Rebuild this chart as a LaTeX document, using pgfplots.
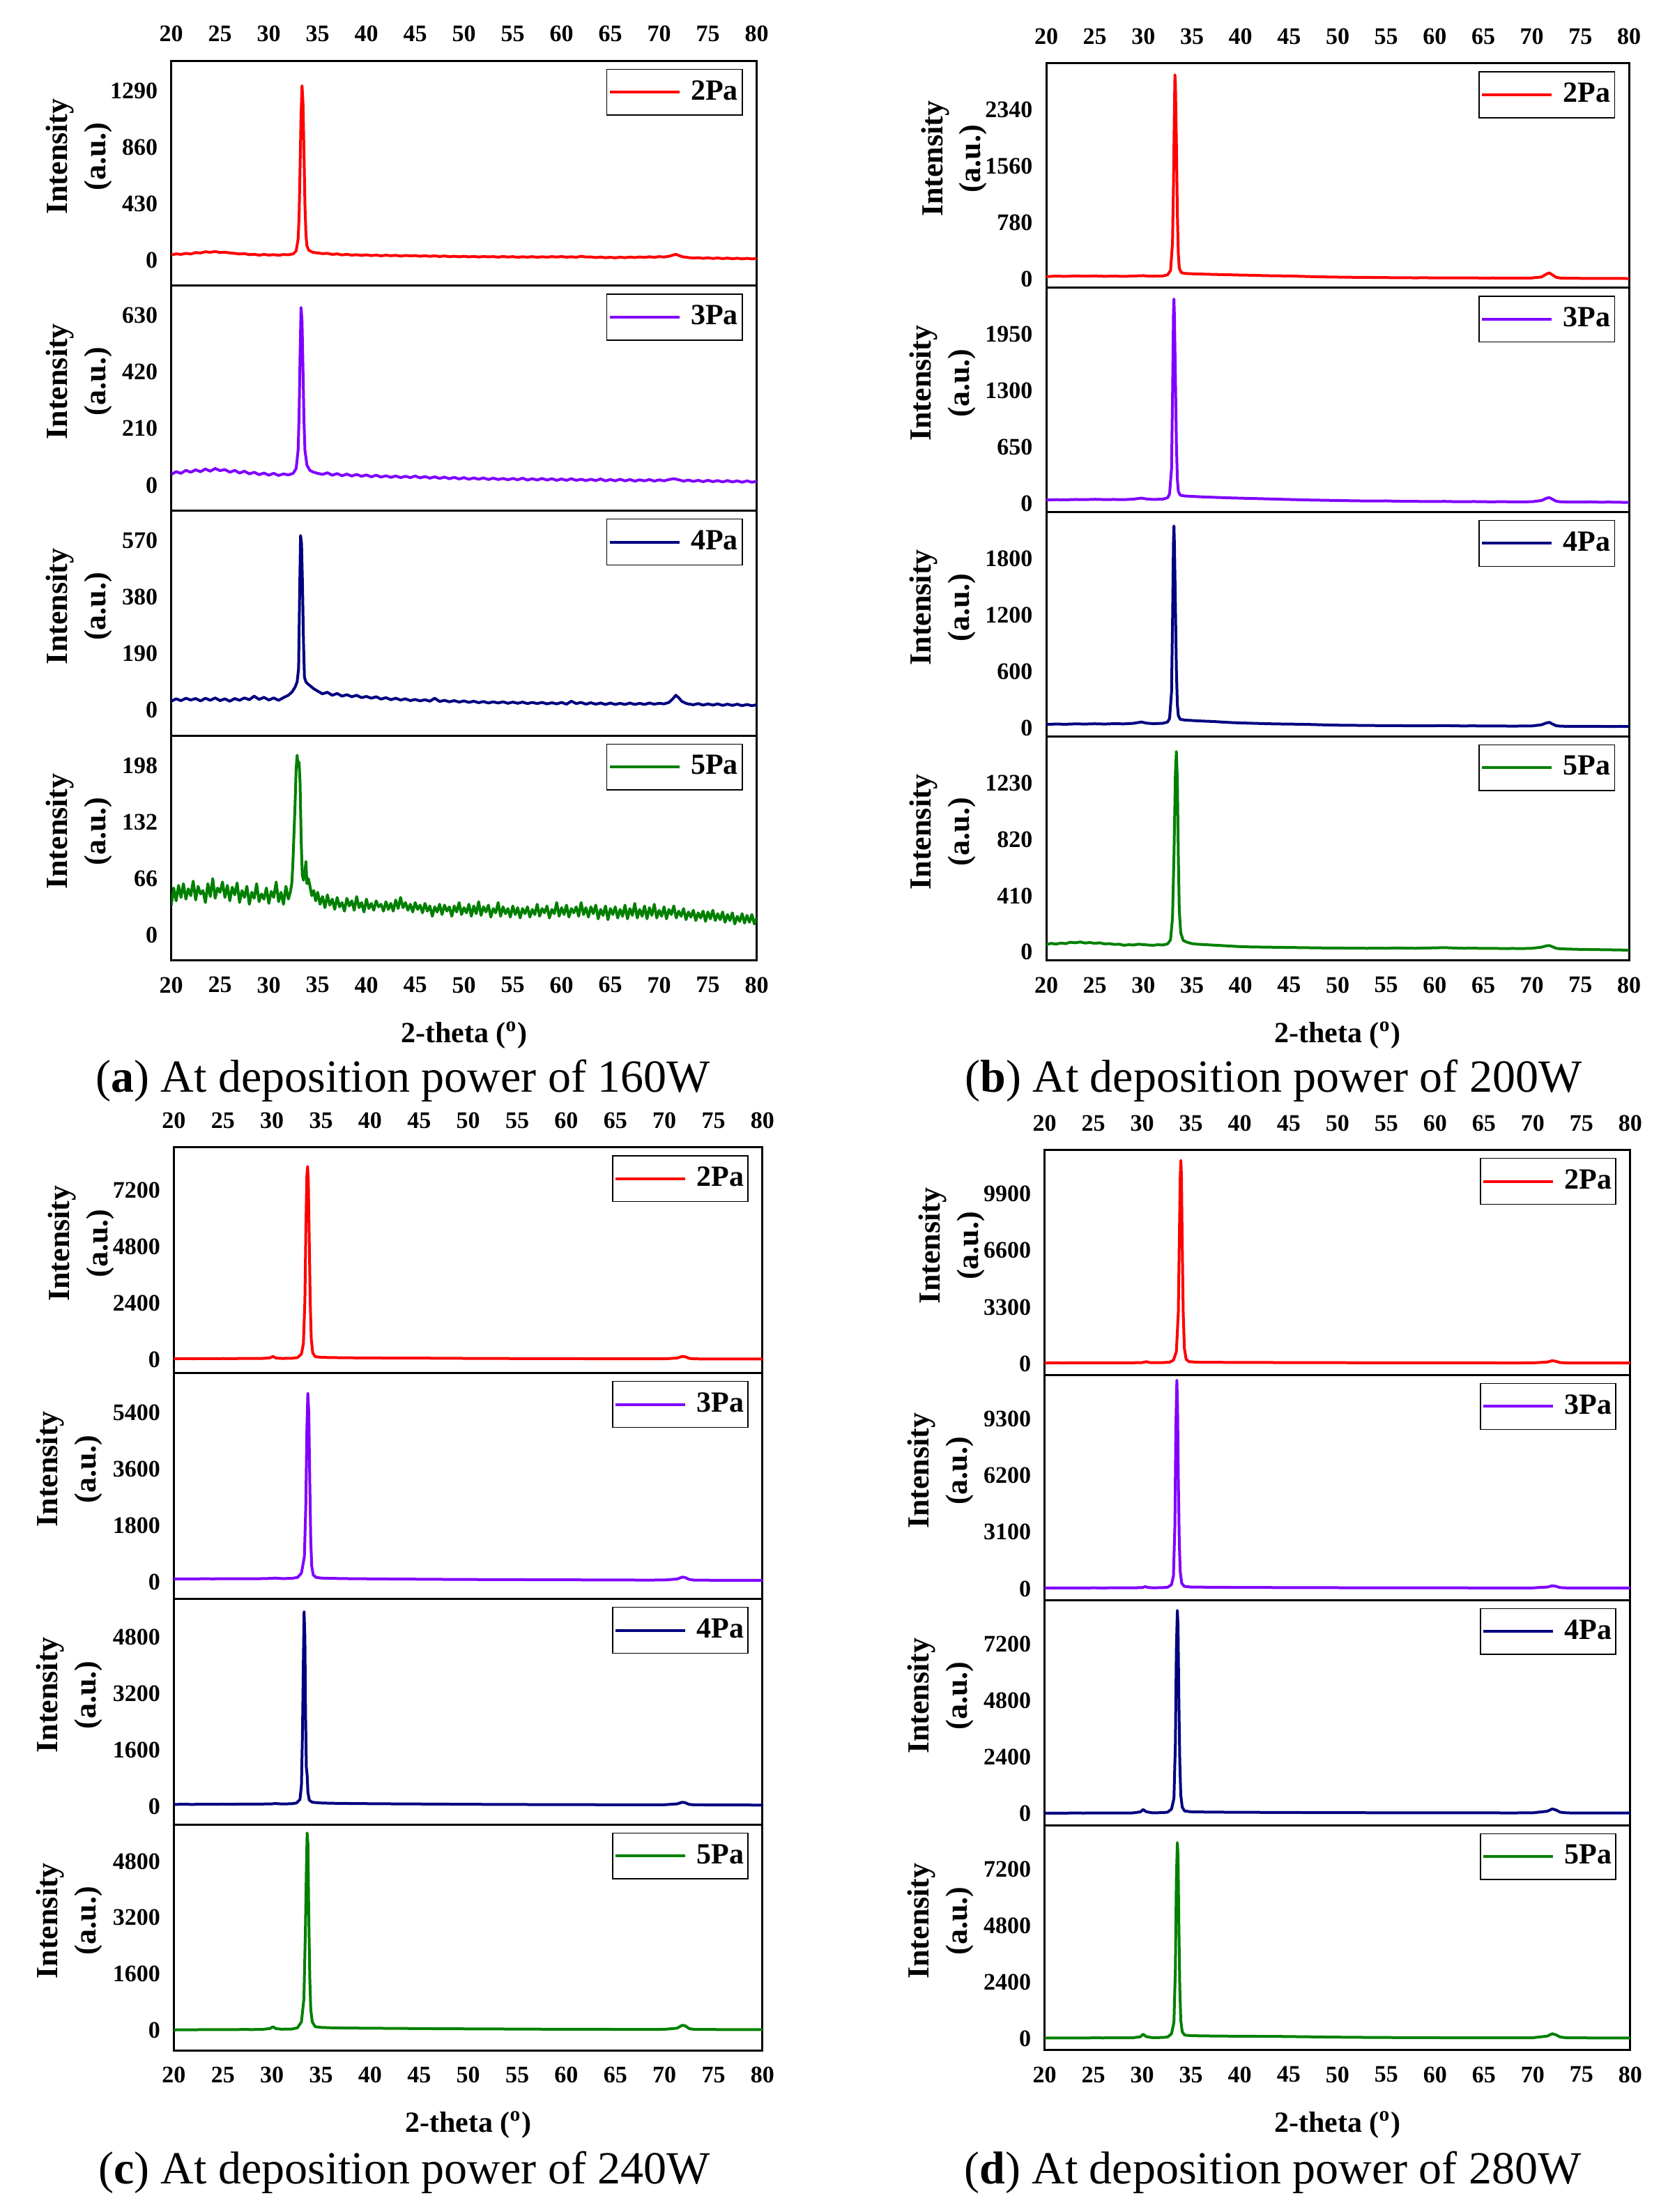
\documentclass[border=0pt]{standalone}
\usepackage{fontspec}
\setmainfont{Liberation Serif}
\usepackage{pgfplots}
\pgfplotsset{compat=1.18}
\definecolor{c2}{RGB}{255,0,0}
\definecolor{c3}{RGB}{128,0,255}
\definecolor{c4}{RGB}{0,0,128}
\definecolor{c5}{RGB}{0,128,0}
\pgfplotsset{
  xrd/.style={
    scale only axis, anchor=north west,
    xmin=20, xmax=80, xtick={20,25,30,35,40,45,50,55,60,65,70,75,80},
    major tick length=0pt, minor tick length=0pt,
    axis line style={line width=0.75pt},
    tick label style={font=\fontsize{8.5}{10}\selectfont\bfseries},
    /pgf/number format/assume math mode=true,
    /pgf/number format/1000 sep={},
    scaled y ticks=false,
    yticklabel style={inner sep=0pt, xshift=-4.7pt},
    xticklabels={},
    every axis plot/.append style={line width=1pt, line join=round, mark=none},
    legend style={at={(0.976,0.964)}, anchor=north east, draw=black, line width=0.35pt,
      font=\fontsize{10.5}{12}\selectfont\bfseries, inner xsep=0.5pt, inner ysep=3pt,
      nodes={inner sep=1pt},
      /tikz/every odd column/.append style={column sep=2.6pt}},
    legend image code/.code={\draw[##1,line width=1pt] (0pt,0pt) -- (25pt,0pt);},
    ylabel={Intensity\\(a.u.)},
    every axis y label/.style={at={(axis description cs:-0.178,0.574)}, rotate=90, anchor=center,
      align=center, font=\fontsize{11}{13.75}\selectfont\bfseries},
    every axis x label/.style={at={(axis description cs:0.5,0)}, anchor=center, yshift=-26.7pt,
      font=\fontsize{10.5}{12}\selectfont\bfseries},
  },
  yl1/.style={ylabel style={at={(axis description cs:-0.158,0.574)}}},
  xtop/.style={xticklabel pos=upper, xticklabels={20,25,30,35,40,45,50,55,60,65,70,75,80},
    xticklabel style={anchor=south, inner sep=0pt, yshift=6.5pt}},
  xbot/.style={xticklabel pos=lower, xticklabels={20,25,30,35,40,45,50,55,60,65,70,75,80},
    xticklabel style={anchor=north, inner sep=0pt, yshift=-5.7pt},
    xlabel={2-theta (\textsuperscript{o})}},
}
\begin{document}
\begin{tikzpicture}
\path[use as bounding box] (0pt,0pt) rectangle (598pt,-793.25pt);

% ================= (a) 160 W =================
\begin{axis}[xrd, xtop, yl1, at={(61.425pt,-21.75pt)}, width=210pt, height=80.675pt,
  ymin=-193.5, ymax=1517.9, ytick={0,430,860,1290}]
\addplot[c2] coordinates {(20,40)(20.5,48)(21,44)(21.5,52)(22,47)(22.5,58)(23,55)(23.5,64)(24,60)(24.5,66)(25,58)(25.5,61)(26,55)(26.5,52)(27,47)(27.5,50)(28,42)(28.5,45)(29,38)(29.5,44)(30,39)(30.5,42)(31,37)(31.5,43)(32,41)(32.5,48)(32.8,70)(33.0,160)(33.1,330)(33.2,700)(33.3,1100)(33.4,1327)(33.5,1200)(33.6,820)(33.7,420)(33.8,200)(33.9,110)(34.1,75)(34.5,60)(35,55)(35.5,50)(36,52)(36.5,44)(37,48)(37.5,40)(38,45)(38.5,38)(39,42)(39.5,36)(40,41)(40.5,35)(41,39)(41.5,33)(42,38)(42.5,34)(43,37)(43.5,31)(44,36)(44.5,33)(45,35)(45.5,30)(46,34)(46.5,29)(47,33)(47.5,28)(48,32)(48.5,27)(49,30)(49.5,26)(50,30)(50.5,25)(51,29)(51.5,24)(52,28)(52.5,25)(53,27)(53.5,23)(54,28)(54.5,24)(55,27)(55.5,22)(56,26)(56.5,23)(57,27)(57.5,22)(58,26)(58.5,23)(59,27)(59.5,24)(60,28)(60.5,23)(61,26)(61.5,22)(62,30)(62.5,24)(63,25)(63.5,20)(64,24)(64.5,19)(65,22)(65.5,18)(66,23)(66.5,19)(67,24)(67.5,20)(68,25)(68.5,21)(69,26)(69.5,22)(70,27)(70.5,24)(71,30)(71.4,38)(71.7,45)(72,36)(72.4,26)(73,20)(73.5,16)(74,19)(74.5,14)(75,18)(75.5,13)(76,17)(76.5,12)(77,16)(77.5,11)(78,15)(78.5,10)(79,14)(79.5,10)(80,12)};
\legend{2Pa}
\end{axis}

\begin{axis}[xrd, yl1, at={(61.425pt,-102.425pt)}, width=210pt, height=80.675pt,
  ymin=-94.5, ymax=741.3, ytick={0,210,420,630}]
\addplot[c3] coordinates {(20,40)(20.5,50)(21,44)(21.5,55)(22,48)(22.5,57)(23,50)(23.5,60)(24,52)(24.5,62)(25,54)(25.5,58)(26,48)(26.5,55)(27,45)(27.5,52)(28,42)(28.5,48)(29,39)(29.5,45)(30,37)(30.5,44)(31,36)(31.5,42)(32,38)(32.5,44)(32.8,62)(33.0,130)(33.1,260)(33.2,480)(33.3,660)(33.4,610)(33.5,430)(33.6,240)(33.7,130)(33.9,75)(34.2,55)(34.6,48)(35,44)(35.5,40)(36,46)(36.5,37)(37,43)(37.5,35)(38,41)(38.5,34)(39,40)(39.5,33)(40,38)(40.5,31)(41,37)(41.5,30)(42,35)(42.5,29)(43,34)(43.5,28)(44,33)(44.5,28)(45,34)(45.5,27)(46,32)(46.5,26)(47,31)(47.5,25)(48,30)(48.5,24)(49,29)(49.5,23)(50,28)(50.5,22)(51,27)(51.5,22)(52,27)(52.5,21)(53,26)(53.5,21)(54,25)(54.5,20)(55,25)(55.5,20)(56,26)(56.5,19)(57,24)(57.5,19)(58,25)(58.5,19)(59,24)(59.5,18)(60,23)(60.5,18)(61,24)(61.5,18)(62,22)(62.5,17)(63,22)(63.5,17)(64,23)(64.5,16)(65,21)(65.5,16)(66,22)(66.5,16)(67,21)(67.5,15)(68,20)(68.5,16)(69,21)(69.5,15)(70,20)(70.5,16)(71,21)(71.5,24)(72,20)(72.5,15)(73,19)(73.5,14)(74,18)(74.5,13)(75,18)(75.5,13)(76,17)(76.5,12)(77,17)(77.5,12)(78,16)(78.5,11)(79,16)(79.5,11)(80,14)};
\legend{3Pa}
\end{axis}

\begin{axis}[xrd, yl1, at={(61.425pt,-183.1pt)}, width=210pt, height=80.675pt,
  ymin=-85.5, ymax=670.7, ytick={0,190,380,570}]
\addplot[c4] coordinates {(20,30)(20.5,38)(21,32)(21.5,40)(22,34)(22.5,39)(23,31)(23.5,40)(24,33)(24.5,41)(25,32)(25.5,38)(26,30)(26.5,39)(27,33)(27.5,41)(28,35)(28.5,47)(29,36)(29.5,43)(30,34)(30.5,41)(31,33)(31.5,42)(32,50)(32.4,62)(32.7,78)(32.9,95)(33.05,140)(33.15,380)(33.25,587)(33.35,560)(33.45,420)(33.55,230)(33.65,110)(33.8,95)(34.0,88)(34.3,80)(34.6,72)(35,64)(35.5,55)(36,60)(36.5,50)(37,56)(37.5,47)(38,52)(38.5,45)(39,50)(39.5,42)(40,46)(40.5,40)(41,45)(41.5,37)(42,42)(42.5,35)(43,40)(43.5,34)(44,38)(44.5,32)(45,36)(45.5,31)(46,35)(46.5,30)(47,40)(47.5,29)(48,33)(48.5,28)(49,32)(49.5,27)(50,31)(50.5,26)(51,30)(51.5,25)(52,29)(52.5,24)(53,28)(53.5,24)(54,28)(54.5,23)(55,27)(55.5,23)(56,27)(56.5,22)(57,26)(57.5,22)(58,26)(58.5,21)(59,25)(59.5,21)(60,26)(60.5,20)(61,30)(61.5,22)(62,26)(62.5,20)(63,25)(63.5,20)(64,24)(64.5,19)(65,24)(65.5,19)(66,23)(66.5,19)(67,24)(67.5,19)(68,23)(68.5,19)(69,24)(69.5,20)(70,23)(70.5,21)(71,26)(71.4,38)(71.7,50)(72,42)(72.3,30)(72.8,22)(73.5,18)(74,22)(74.5,17)(75,21)(75.5,17)(76,21)(76.5,16)(77,20)(77.5,16)(78,20)(78.5,15)(79,19)(79.5,15)(80,18)};
\legend{4Pa}
\end{axis}

\begin{axis}[xrd, xbot, yl1, at={(61.425pt,-263.775pt)}, width=210pt, height=80.675pt,
  ymin=-29.7, ymax=233.0, ytick={0,66,132,198}]
\addplot[c5] coordinates {(20,35)(20.25,55)(20.5,40)(20.75,58)(21,44)(21.25,60)(21.5,42)(21.75,54)(22,46)(22.25,63)(22.5,41)(22.75,57)(23,48)(23.25,52)(23.5,38)(23.75,60)(24,45)(24.25,66)(24.5,43)(24.75,55)(25,50)(25.25,62)(25.5,44)(25.75,58)(26,40)(26.25,56)(26.5,47)(26.75,61)(27,38)(27.25,52)(27.5,44)(27.75,57)(28,36)(28.25,50)(28.5,43)(28.75,60)(29,39)(29.25,48)(29.5,42)(29.75,55)(30,37)(30.25,51)(30.5,44)(30.75,62)(31,39)(31.25,50)(31.5,36)(31.75,57)(32,42)(32.2,50)(32.35,60)(32.45,80)(32.55,110)(32.68,150)(32.8,195)(32.9,210)(33.0,196)(33.1,202)(33.2,178)(33.32,108)(33.43,70)(33.55,64)(33.7,74)(33.8,86)(33.9,60)(34.05,66)(34.2,58)(34.4,46)(34.6,52)(34.8,40)(35,50)(35.25,36)(35.5,45)(35.75,32)(36,47)(36.25,35)(36.5,42)(36.75,30)(37,44)(37.25,33)(37.5,38)(37.75,28)(38,43)(38.25,34)(38.5,40)(38.75,29)(39,45)(39.25,32)(39.5,38)(39.75,27)(40,42)(40.25,31)(40.5,37)(40.75,29)(41,40)(41.25,33)(41.5,36)(41.75,28)(42,39)(42.25,30)(42.5,37)(42.75,28)(43,41)(43.25,31)(43.5,44)(43.75,32)(44,38)(44.25,29)(44.5,36)(44.75,27)(45,38)(45.25,30)(45.5,35)(45.75,26)(46,37)(46.25,28)(46.5,34)(46.75,22)(47,33)(47.25,27)(47.5,36)(47.75,24)(48,35)(48.25,28)(48.5,33)(48.75,22)(49,34)(49.25,27)(49.5,38)(49.75,24)(50,32)(50.25,26)(50.5,36)(50.75,22)(51,34)(51.25,25)(51.5,39)(51.75,23)(52,33)(52.25,27)(52.5,35)(52.75,21)(53,31)(53.25,26)(53.5,38)(53.75,22)(54,33)(54.25,25)(54.5,31)(54.75,21)(55,34)(55.25,24)(55.5,32)(55.75,20)(56,31)(56.25,25)(56.5,33)(56.75,21)(57,30)(57.25,24)(57.5,36)(57.75,22)(58,31)(58.25,26)(58.5,34)(58.75,20)(59,30)(59.25,25)(59.5,38)(59.75,22)(60,32)(60.25,24)(60.5,35)(60.75,21)(61,31)(61.25,26)(61.5,33)(61.75,22)(62,38)(62.25,24)(62.5,32)(62.75,21)(63,33)(63.25,25)(63.5,35)(63.75,19)(64,30)(64.25,23)(64.5,34)(64.75,18)(65,31)(65.25,24)(65.5,33)(65.75,20)(66,30)(66.25,22)(66.5,35)(66.75,19)(67,31)(67.25,23)(67.5,37)(67.75,20)(68,30)(68.25,22)(68.5,34)(68.75,19)(69,32)(69.25,23)(69.5,36)(69.75,20)(70,29)(70.25,22)(70.5,33)(70.75,19)(71,30)(71.25,24)(71.5,34)(71.75,20)(72,28)(72.25,22)(72.5,31)(72.75,18)(73,27)(73.25,21)(73.5,29)(73.75,17)(74,26)(74.25,20)(74.5,28)(74.75,16)(75,27)(75.25,19)(75.5,29)(75.75,17)(76,25)(76.25,18)(76.5,27)(76.75,15)(77,24)(77.25,17)(77.5,26)(77.75,13)(78,22)(78.25,16)(78.5,25)(78.75,14)(79,23)(79.25,15)(79.5,24)(79.75,13)(80,20)};
\legend{5Pa}
\end{axis}

% ================= (b) 200 W =================
\begin{axis}[xrd, xtop, yl1, at={(375.25pt,-22.675pt)}, width=209pt, height=80.45pt,
  ymin=-117, ymax=2987.4, ytick={0,780,1560,2340}]
\addplot[c2] coordinates {(20,35)(21,42)(22,38)(23,45)(24,40)(25,44)(26,39)(27,42)(28,38)(29,43)(30,48)(30.5,42)(31,40)(32,44)(32.5,60)(32.8,120)(33.0,500)(33.1,1300)(33.2,2400)(33.25,2827)(33.3,2700)(33.4,1900)(33.5,900)(33.6,350)(33.7,150)(33.9,90)(34.3,78)(35,74)(36,70)(37,66)(38,63)(39,60)(40,56)(41,54)(42,50)(43,47)(44,45)(45,44)(46,40)(47,36)(48,32)(49,30)(50,28)(51,26)(52,25)(53,24)(54,22)(55,21)(56,20)(57,19)(58,18)(59,19)(60,17)(61,18)(62,17)(63,16)(64,17)(65,15)(66,16)(67,14)(68,15)(69,14)(70,16)(71,30)(71.5,70)(71.8,86)(72.1,60)(72.5,25)(73,14)(74,12)(75,11)(76,10)(77,11)(78,9)(79,10)(80,8)};
\legend{2Pa}
\end{axis}

\begin{axis}[xrd, at={(375.25pt,-103.125pt)}, width=209pt, height=80.45pt,
  ymin=-97.5, ymax=2489.5, ytick={0,650,1300,1950}]
\addplot[c3] coordinates {(20,40)(21,44)(22,42)(23,46)(24,44)(25,48)(26,45)(27,46)(28,44)(29,50)(29.8,62)(30.3,52)(31,46)(32,50)(32.5,66)(32.7,110)(32.9,400)(33.0,1200)(33.1,2200)(33.15,2358)(33.2,2150)(33.3,1450)(33.4,700)(33.5,280)(33.6,140)(33.8,95)(34.3,86)(35,82)(36,76)(37,72)(38,68)(39,64)(40,61)(41,58)(42,55)(43,52)(44,49)(45,46)(46,43)(47,40)(48,38)(49,36)(50,34)(51,32)(52,30)(53,29)(54,28)(55,30)(56,26)(57,25)(58,24)(59,23)(60,22)(61,24)(62,21)(63,20)(64,22)(65,20)(66,19)(67,21)(68,18)(69,19)(70,20)(71,34)(71.5,60)(71.8,68)(72.1,50)(72.5,26)(73,18)(74,17)(75,16)(76,18)(77,15)(78,16)(79,14)(80,12)};
\legend{3Pa}
\end{axis}

\begin{axis}[xrd, at={(375.25pt,-183.575pt)}, width=209pt, height=80.45pt,
  ymin=-90, ymax=2298, ytick={0,600,1200,1800}]
\addplot[c4] coordinates {(20,36)(21,40)(22,38)(23,42)(24,40)(25,43)(26,40)(27,44)(28,42)(29,48)(29.8,62)(30.3,50)(31,44)(32,48)(32.5,62)(32.7,100)(32.9,380)(33.0,1100)(33.1,2000)(33.15,2149)(33.2,1950)(33.3,1300)(33.4,620)(33.5,250)(33.6,130)(33.8,90)(34.3,82)(35,78)(36,72)(37,68)(38,62)(39,56)(40,52)(41,49)(42,46)(43,43)(44,41)(45,40)(46,38)(47,36)(48,33)(49,30)(50,28)(51,27)(52,26)(53,25)(54,24)(55,23)(56,23)(57,22)(58,22)(59,21)(60,22)(61,24)(62,21)(63,20)(64,21)(65,19)(66,20)(67,19)(68,18)(69,19)(70,20)(71,32)(71.5,52)(71.8,58)(72.1,42)(72.5,22)(73,17)(74,16)(75,16)(76,15)(77,15)(78,14)(79,15)(80,14)};
\legend{4Pa}
\end{axis}

\begin{axis}[xrd, xbot, at={(375.25pt,-264.025pt)}, width=209pt, height=80.45pt,
  ymin=-61.5, ymax=1570.3, ytick={0,410,820,1230}]
\addplot[c5] coordinates {(20,55)(20.5,64)(21,58)(21.5,66)(22,62)(22.5,72)(23,68)(23.5,74)(24,66)(24.5,70)(25,64)(25.5,68)(26,60)(26.5,62)(27,56)(27.5,58)(28,50)(28.5,54)(29,52)(29.5,58)(30,55)(30.5,52)(31,50)(31.5,54)(32,52)(32.5,60)(32.8,90)(33.0,250)(33.15,700)(33.3,1300)(33.4,1459)(33.5,1250)(33.6,700)(33.7,300)(33.85,140)(34.1,85)(34.5,72)(35,62)(35.5,58)(36,56)(37,52)(38,48)(39,44)(40,40)(41,38)(42,37)(43,36)(44,35)(45,34)(46,33)(47,32)(48,31)(49,30)(50,30)(51,29)(52,29)(53,28)(54,29)(55,28)(56,30)(57,29)(58,28)(59,30)(60,31)(61,33)(62,30)(63,28)(64,29)(65,27)(66,28)(67,26)(68,27)(69,26)(70,28)(71,36)(71.5,46)(71.8,48)(72.1,40)(72.5,28)(73,24)(74,22)(75,20)(76,19)(77,18)(78,17)(79,16)(80,14)};
\legend{5Pa}
\end{axis}

% ================= (c) 240 W =================
\begin{axis}[xrd, xtop, yl1, at={(62.375pt,-411.375pt)}, width=211.125pt, height=80.975pt,
  ymin=-552, ymax=9024, ytick={0,2400,4800,7200}]
\addplot[c2] coordinates {(20,50)(21,55)(22,52)(23,58)(24,55)(25,60)(26,58)(27,62)(28,60)(29,64)(29.8,90)(30.1,150)(30.4,80)(31,66)(32,70)(32.6,100)(33.0,250)(33.2,700)(33.35,2500)(33.45,5500)(33.55,7800)(33.63,8204)(33.7,7600)(33.8,5000)(33.9,2400)(34.0,900)(34.15,300)(34.4,140)(35,110)(36,100)(37,95)(38,90)(39,88)(40,85)(42,80)(44,78)(46,75)(48,70)(50,66)(52,64)(54,60)(56,58)(58,56)(60,55)(62,52)(64,50)(66,48)(68,47)(70,48)(71.3,80)(71.8,150)(72.1,140)(72.5,70)(73,46)(74,44)(76,42)(78,40)(80,38)};
\legend{2Pa}
\end{axis}

\begin{axis}[xrd, at={(62.375pt,-492.35pt)}, width=211.125pt, height=80.975pt,
  ymin=-540, ymax=6660, ytick={0,1800,3600,5400}]
\addplot[c3] coordinates {(20,90)(21,95)(22,92)(23,98)(24,95)(25,100)(26,96)(27,100)(28,98)(29,102)(30,110)(30.3,120)(31,104)(32,110)(32.6,140)(33.0,280)(33.3,800)(33.45,2500)(33.55,4800)(33.65,6011)(33.75,5400)(33.85,3200)(33.95,1300)(34.05,500)(34.2,220)(34.5,140)(35,120)(36,110)(37,105)(38,100)(40,95)(42,90)(44,86)(46,82)(48,78)(50,75)(52,72)(54,70)(56,68)(58,66)(60,64)(62,62)(64,60)(66,58)(68,56)(70,58)(71.3,90)(71.8,150)(72.1,140)(72.5,80)(73,55)(74,52)(76,50)(78,48)(80,46)};
\legend{3Pa}
\end{axis}

\begin{axis}[xrd, at={(62.375pt,-573.325pt)}, width=211.125pt, height=80.975pt,
  ymin=-512, ymax=5888, ytick={0,1600,3200,4800}]
\addplot[c4] coordinates {(20,60)(21,62)(22,60)(23,65)(24,62)(25,66)(26,64)(27,68)(28,66)(29,70)(30,75)(30.3,85)(31,72)(32,78)(32.5,100)(32.85,200)(33.0,600)(33.1,2000)(33.2,4200)(33.27,5521)(33.35,4800)(33.42,2600)(33.5,1100)(33.58,900)(33.66,400)(33.8,180)(34.1,120)(35,100)(36,92)(37,88)(38,85)(40,80)(42,76)(44,72)(46,70)(48,66)(50,63)(52,60)(54,58)(56,56)(58,55)(60,54)(62,52)(64,50)(66,50)(68,48)(70,50)(71.3,75)(71.8,120)(72.1,110)(72.5,60)(73,48)(74,46)(76,44)(78,42)(80,40)};
\legend{4Pa}
\end{axis}

\begin{axis}[xrd, xbot, at={(62.375pt,-654.3pt)}, width=211.125pt, height=80.975pt,
  ymin=-560, ymax=5840, ytick={0,1600,3200,4800}]
\addplot[c5] coordinates {(20,20)(21,25)(22,24)(23,28)(24,26)(25,30)(26,28)(27,32)(28,30)(29,34)(29.8,60)(30.1,110)(30.4,55)(31,40)(32,44)(32.6,80)(33.0,250)(33.25,900)(33.4,2800)(33.5,4500)(33.58,5600)(33.66,5300)(33.75,3200)(33.85,1500)(33.95,600)(34.1,250)(34.4,110)(35,90)(36,80)(37,76)(38,72)(40,68)(42,64)(44,60)(46,56)(48,52)(50,50)(52,48)(54,45)(56,42)(58,40)(60,40)(62,38)(64,36)(66,35)(68,34)(70,36)(71.3,70)(71.8,150)(72.1,140)(72.5,60)(73,34)(74,32)(76,30)(78,28)(80,26)};
\legend{5Pa}
\end{axis}

% ================= (d) 280 W =================
\begin{axis}[xrd, xtop, yl1, at={(374.65pt,-412.325pt)}, width=210.1pt, height=80.725pt,
  ymin=-660, ymax=12474, ytick={0,3300,6600,9900}]
\addplot[c2] coordinates {(20,40)(21,42)(22,40)(23,44)(24,42)(25,45)(26,44)(27,46)(28,45)(29,48)(30,60)(30.4,110)(30.8,60)(31,52)(32,55)(32.8,80)(33.2,200)(33.5,700)(33.7,3000)(33.82,8000)(33.9,11000)(33.96,11856)(34.02,11000)(34.1,7000)(34.2,3000)(34.32,900)(34.5,250)(34.8,110)(35.5,85)(36,80)(37,76)(38,72)(40,68)(42,64)(44,60)(46,58)(48,55)(50,52)(52,50)(54,48)(56,46)(58,45)(60,44)(62,43)(64,42)(66,41)(68,40)(70,42)(71.5,90)(72,170)(72.4,130)(72.8,60)(73.5,40)(75,38)(77,36)(79,35)(80,34)};
\legend{2Pa}
\end{axis}

\begin{axis}[xrd, at={(374.65pt,-493.05pt)}, width=210.1pt, height=80.725pt,
  ymin=-620, ymax=11718, ytick={0,3100,6200,9300}]
\addplot[c3] coordinates {(20,40)(21,42)(22,41)(23,44)(24,42)(25,45)(26,43)(27,46)(28,45)(29,48)(30,60)(30.3,110)(30.7,60)(31,52)(32,55)(32.6,80)(33.0,220)(33.2,700)(33.35,3500)(33.45,9000)(33.55,11426)(33.62,10000)(33.7,6000)(33.8,2500)(33.9,900)(34.05,300)(34.3,130)(35,90)(36,84)(37,80)(38,76)(40,70)(42,66)(44,62)(46,60)(48,57)(50,54)(52,52)(54,50)(56,48)(58,47)(60,46)(62,45)(64,44)(66,43)(68,42)(70,44)(71.5,90)(72,160)(72.4,130)(72.8,60)(73.5,42)(75,40)(77,38)(79,36)(80,35)};
\legend{3Pa}
\end{axis}

\begin{axis}[xrd, at={(374.65pt,-573.775pt)}, width=210.1pt, height=80.725pt,
  ymin=-480, ymax=9072, ytick={0,2400,4800,7200}]
\addplot[c4] coordinates {(20,30)(21,32)(22,31)(23,34)(24,32)(25,35)(26,34)(27,36)(28,35)(29,38)(29.8,80)(30.1,180)(30.4,90)(31,45)(32,48)(32.6,70)(33.0,200)(33.25,650)(33.4,3000)(33.5,7000)(33.6,8628)(33.67,8000)(33.75,5000)(33.85,2200)(33.95,800)(34.1,280)(34.35,120)(35,85)(36,78)(37,74)(38,70)(40,66)(42,62)(44,58)(46,55)(48,52)(50,50)(52,48)(54,46)(56,44)(58,43)(60,42)(62,41)(64,40)(66,40)(68,39)(70,42)(71.5,110)(72,210)(72.4,160)(72.8,70)(73.5,40)(75,38)(77,36)(79,35)(80,34)};
\legend{4Pa}
\end{axis}

\begin{axis}[xrd, xbot, at={(374.65pt,-654.5pt)}, width=210.1pt, height=80.725pt,
  ymin=-480, ymax=9072, ytick={0,2400,4800,7200}]
\addplot[c5] coordinates {(20,40)(21,42)(22,41)(23,44)(24,42)(25,45)(26,44)(27,46)(28,45)(29,48)(29.8,90)(30.1,200)(30.4,100)(31,55)(32,60)(32.6,80)(33.0,220)(33.25,700)(33.4,3000)(33.5,6800)(33.6,8330)(33.67,7800)(33.75,5000)(33.85,2200)(33.95,800)(34.1,300)(34.35,160)(35,140)(36,130)(37,125)(38,120)(40,115)(42,110)(44,105)(46,95)(48,85)(50,75)(52,68)(54,62)(56,58)(58,55)(60,52)(62,50)(64,48)(66,47)(68,46)(70,50)(71.5,120)(72,220)(72.4,170)(72.8,80)(73.5,48)(75,45)(77,42)(79,40)(80,38)};
\legend{5Pa}
\end{axis}

% ================= captions =================
\node[anchor=base, font=\fontsize{16.5}{20}\selectfont] at (144.5pt,-391.5pt) {(\textbf{a}) At deposition power of 160W};
\node[anchor=base, font=\fontsize{16.5}{20}\selectfont] at (456.75pt,-391.5pt) {(\textbf{b}) At deposition power of 200W};
\node[anchor=base, font=\fontsize{16.5}{20}\selectfont] at (145pt,-783pt) {(\textbf{c}) At deposition power of 240W};
\node[anchor=base, font=\fontsize{16.5}{20}\selectfont] at (456.5pt,-783pt) {(\textbf{d}) At deposition power of 280W};
\end{tikzpicture}
\end{document}
